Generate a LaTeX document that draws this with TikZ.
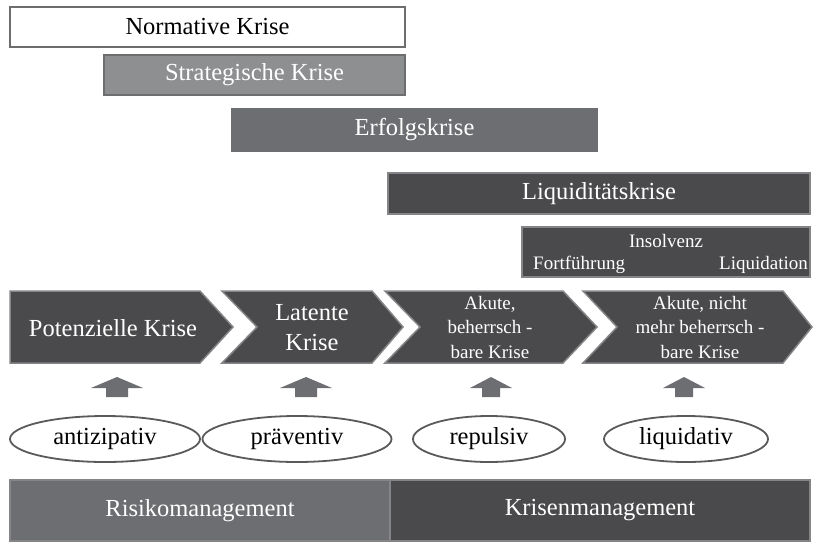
\documentclass[tikz,border=0pt]{standalone}
\usepackage{fontspec}
\setmainfont{Liberation Serif}
\usetikzlibrary{shapes.geometric}
\definecolor{cnormb}{HTML}{6D6D6F}
\definecolor{cmid}{HTML}{8E8F91}
\definecolor{cmidb}{HTML}{6E6E70}
\definecolor{cmidd}{HTML}{6D6E71}
\definecolor{cdark}{HTML}{4A4A4C}
\definecolor{cedge}{HTML}{858587}
\definecolor{cell}{HTML}{5A5A5C}
\newcommand\blockup[4]{% cx, half head, half shaft, name
  \fill[arrfill] (#1-#3,397) -- (#1-#3,388) -- (#1-#2,388) -- (#1,377) -- (#1+#2,388) -- (#1+#3,388) -- (#1+#3,397) -- cycle;
  \coordinate (#4) at (#1,387);}
\begin{document}
\begin{tikzpicture}[x=1pt,y=-1pt,
  big/.style={font=\fontsize{24.5}{30}\selectfont},
  small/.style={font=\fontsize{19}{24.5}\selectfont},
  box/.style={draw=cedge, line width=1.5pt, inner sep=0pt, text=white, big},
  chev/.style={fill=cdark, draw=cedge, line width=1.5pt, line join=miter},
  lbl/.style={text=white, align=center, inner sep=0pt},
  arrfill/.style={fill=cmidd},
  oval/.style={ellipse, draw=cell, line width=1.8pt, fill=white, inner sep=0pt, big}
]
\useasboundingbox (0,0) rectangle (813,544);

% top crisis bars
\node[box, fill=white, draw=cnormb, text=black, minimum width=395pt, minimum height=40pt] (norm) at (207.5,27) {Normative Krise};
\node[box, fill=cmid, draw=cmidb, minimum width=301pt, minimum height=40pt] (strat) at (254.5,75) {Strategische Krise};
\node[box, fill=cmidd, draw=cmidd, minimum width=365pt, minimum height=42pt] (erfolg) at (414.5,130) {Erfolgskrise};
\node[box, fill=cdark, minimum width=422pt, minimum height=41pt] (liq) at (599,193.5) {Liquiditätskrise};
\node[box, fill=cdark, minimum width=288pt, minimum height=50pt] (insol) at (666,252) {};
\node[lbl, small] (insT) at (666,241) {Insolvenz};
\node[lbl, small, anchor=west] (insF) at (533,265) {Fortführung};
\node[lbl, small, anchor=east] (insL) at (808,265) {Liquidation};

% chevrons
\path[chev] (10,291) -- (200,291) -- (233,327) -- (200,363) -- (10,363) -- cycle;
\path[chev] (222,291) -- (372,291) -- (403,327) -- (372,363) -- (222,363) -- (257,327) -- cycle;
\path[chev] (385,291) -- (563,291) -- (597,327) -- (563,363) -- (385,363) -- (420,327) -- cycle;
\path[chev] (583,291) -- (783,291) -- (812,327) -- (783,363) -- (583,363) -- (617,327) -- cycle;
\node[lbl, big] (c1) at (113,328) {Potenzielle Krise};
\node[lbl, big] (c2) at (312,328) {Latente\\Krise};
\node[lbl, small] (c3) at (490,327) {Akute,\\beherrsch -\\bare Krise};
\node[lbl, small] (c4) at (700,327) {Akute, nicht\\mehr beherrsch -\\bare Krise};

% up arrows
\blockup{117}{26}{11}{a1}
\blockup{306}{26}{11}{a2}
\blockup{491}{21}{9}{a3}
\blockup{684}{21}{9}{a4}

% ellipses
\node[oval, minimum width=190pt, minimum height=46pt] (e1) at (105,439) {antizipativ};
\node[oval, minimum width=189pt, minimum height=46pt] (e2) at (297,439) {präventiv};
\node[oval, minimum width=152pt, minimum height=46pt] (e3) at (489,439) {repulsiv};
\node[oval, minimum width=164pt, minimum height=46pt] (e4) at (686,439) {liquidativ};

% bottom bars
\node[box, fill=cmidd, draw=cedge, minimum width=380pt, minimum height=61pt] (risk) at (200,510.5) {Risikomanagement};
\node[box, fill=cdark, draw=cedge, minimum width=420pt, minimum height=61pt] (kris) at (600,510.5) {Krisenmanagement};
\end{tikzpicture}
\end{document}
